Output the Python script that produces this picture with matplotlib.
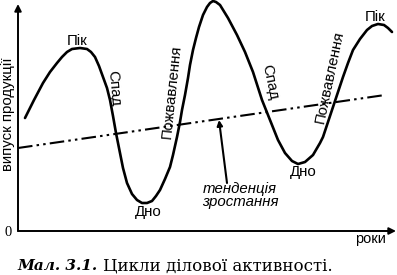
import matplotlib
matplotlib.use("Agg")
import matplotlib.pyplot as plt

# Business-cycle curve (time, output)
t = [7, 16, 25, 32, 39, 44, 49, 54, 62, 69, 73, 77, 81, 85, 89, 92, 95, 98, 101, 105,
     109, 114, 119, 124, 129, 134, 138, 142, 147, 152, 155, 159, 162, 164, 167, 170,
     172, 175, 178, 181, 185, 189, 192, 195, 198, 202, 210, 219, 227, 235, 244, 252,
     260, 267, 274, 280, 287, 295, 302, 305, 310, 315, 320, 325, 330, 335, 342, 349,
     354, 360, 366, 370, 374]
output = [113, 131, 148, 159, 168, 174, 179, 182, 183, 182, 179, 174, 165, 154, 143,
          131, 115, 98, 83, 63, 48, 37, 31, 28, 28, 30, 35, 41, 52, 64, 76, 94, 109,
          121, 136, 153, 166, 181, 193, 204, 216, 224, 228, 230, 229, 226, 213, 196,
          179, 159, 131, 111, 91, 78, 70, 67, 69, 76, 88, 94, 109, 124, 139, 154, 168,
          181, 192, 201, 205, 207, 206, 203, 199]

# Growth trend line
trend_t = [0, 367]
trend_y = [83, 136]

# Phase labels: (text, t, y, rotation)
phase_labels = [
    ("Пік", 59, 190, 0),
    ("Спад", 96, 143, -85),
    ("Пожвавлення", 154, 139, 84),
    ("Дно", 130, 19, 0),
    ("Спад", 252, 149, -78),
    ("Пожвавлення", 312, 154, 78),
    ("Дно", 285, 59, 0),
    ("Пік", 357, 214, 0),
]

W, H = 397, 275
fig = plt.figure(figsize=(W / 100, H / 100), dpi=100)
ax = fig.add_axes([18 / W, 44 / H, 379 / W, 231 / H])
ax.set_xlim(0, 379)
ax.set_ylim(0, 231)
ax.axis("off")

# axes with arrows
ax.annotate("", xy=(0, 227), xytext=(0, 0),
            arrowprops=dict(arrowstyle="-|>", lw=1.4, color="black",
                            mutation_scale=10, shrinkA=0, shrinkB=0))
ax.annotate("", xy=(378, 0), xytext=(0, 0),
            arrowprops=dict(arrowstyle="-|>", lw=1.4, color="black",
                            mutation_scale=10, shrinkA=0, shrinkB=0))

ax.plot(t, output, color="black", lw=1.9, solid_capstyle="round", clip_on=False)
ax.plot(trend_t, trend_y, color="black", lw=1.5,
        linestyle=(0, (7, 2, 1.2, 2, 1.2, 2)), clip_on=False)

font = "Liberation Sans"
for txt, x, y, rot in phase_labels:
    ax.text(x, y, txt, rotation=rot, ha="center", va="center",
            fontsize=10.8, family=font, rotation_mode="anchor")

ax.annotate("", xy=(201, 111), xytext=(209, 48),
            arrowprops=dict(arrowstyle="-|>", lw=1.5, color="black",
                            mutation_scale=8, shrinkA=0, shrinkB=0))
ax.text(222, 42, "тенденція", style="italic", ha="center", va="center",
        fontsize=10.8, family=font)
ax.text(222, 29, "зростання", style="italic", ha="center", va="center",
        fontsize=10.8, family=font)

ax.text(-10, -1, "0", ha="center", va="center", fontsize=10.5, family="Liberation Serif",
        clip_on=False)
ax.text(352, -8, "роки", ha="center", va="center", fontsize=10.5, family=font,
        clip_on=False)
ax.text(-10, 117, "випуск продукції", rotation=90, ha="center", va="center",
        fontsize=10.8, family=font, clip_on=False)

fig.text(17 / W, 1 - 266 / H, "Мал. 3.1.", family="DejaVu Serif",
         style="italic", weight="bold", fontsize=11, ha="left", va="center")
fig.text(103 / W, 1 - 266 / H, "Цикли ділової активності.", family="DejaVu Serif",
         fontsize=12, ha="left", va="center")

fig.savefig("out.png", dpi=100)
